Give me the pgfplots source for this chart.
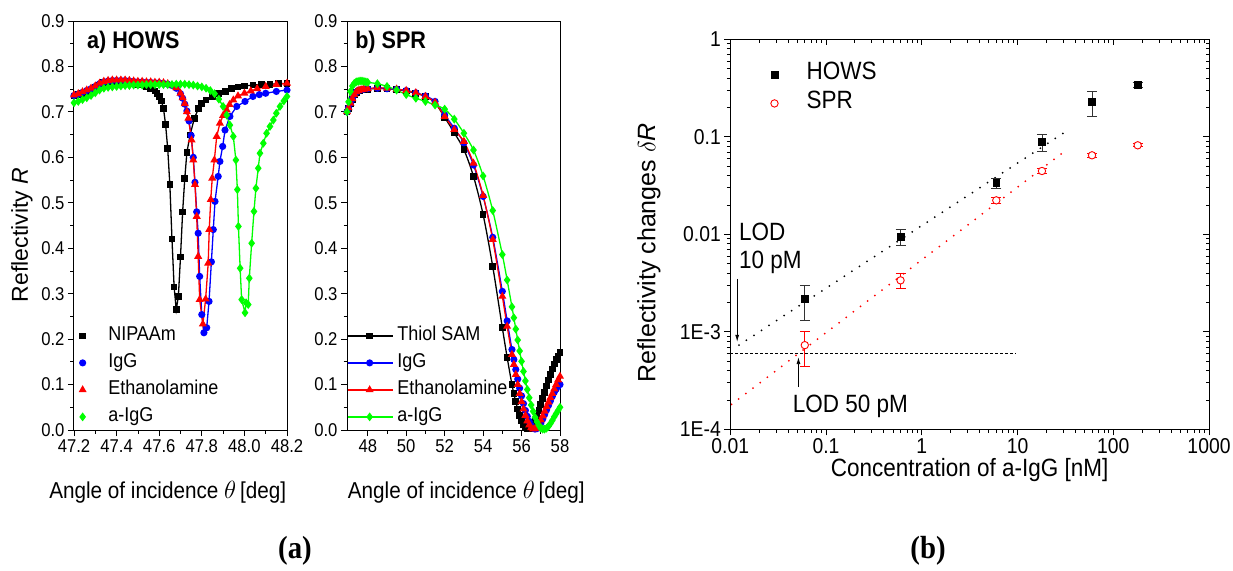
\documentclass[border=0pt]{standalone}
\usepackage{fontspec}
\setmainfont{Liberation Sans}[FakeStretch=0.9]
\newfontfamily\vfont{Liberation Sans}
\newfontfamily\capfont{Liberation Serif}[FakeStretch=0.9]
\usepackage{pgfplots}
\pgfplotsset{compat=1.18}
\usetikzlibrary{arrows.meta}
\definecolor{cgreen}{RGB}{0,255,0}
\definecolor{cblue}{RGB}{0,0,255}
\definecolor{cred}{RGB}{255,0,0}

\pgfplotsset{
  angleplot/.style={
    scale only axis, width=213pt, height=409pt,
    ymin=0, ymax=0.9,
    ytick={0,0.1,0.2,0.3,0.4,0.5,0.6,0.7,0.8,0.9},
    yticklabels={0.0,0.1,0.2,0.3,0.4,0.5,0.6,0.7,0.8,0.9},
    minor x tick num=1, minor y tick num=1,
    tick align=outside, xtick pos=bottom, ytick pos=left,
    major tick length=6pt, minor tick length=3.5pt,
    tick style={black, line width=0.8pt},
    axis line style={line width=1pt},
    tick label style={font=\fontsize{18.5pt}{20pt}\selectfont},
    xlabel={Angle of incidence $\theta$\,[deg]},
    legend cell align=left,
    legend style={draw=none, fill=none, at={(0,0.257)}, anchor=north west,
      inner sep=0pt, outer sep=0pt, row sep=5pt, column sep=0pt,
      font=\fontsize{20pt}{22pt}\selectfont,
      nodes={inner sep=1pt, text height=15pt, text depth=5pt}},
  },
  curve/.style={line width=1.3pt, mark options={solid, fill=#1}, color=#1},
}

\begin{document}
\begin{tikzpicture}
\useasboundingbox (0pt,0pt) rectangle (1233pt,570pt);

% ---------------- (a) HOWS ----------------
\begin{axis}[angleplot,
  at={(74pt,140pt)}, anchor=south west,
  xmin=47.2, xmax=48.2,
  xtick={47.2,47.4,47.6,47.8,48.0,48.2},
  xticklabels={47.2,47.4,47.6,47.8,48.0,48.2},
  ylabel={Reflectivity \textit{R}},
  every axis y label/.style={at={(axis description cs:-0.244,0.477)}, rotate=90, anchor=center,
    font=\vfont\fontsize{23pt}{26pt}\selectfont},
  every axis x label/.style={at={(axis description cs:0.44,-0.152)}, anchor=center,
    font=\fontsize{23pt}{26pt}\selectfont},
  legend image code/.code={\path (0pt,0pt) (32pt,0pt); \draw[#1, only marks] plot coordinates {(8pt,0pt)};},
]
\addplot[curve=black, mark=square*, mark size=2.7pt] coordinates {
(47.20,0.735)(47.22,0.738)(47.24,0.741)(47.26,0.744)(47.28,0.748)(47.30,0.753)(47.32,0.759)
(47.34,0.764)(47.36,0.766)(47.38,0.767)(47.40,0.767)(47.42,0.767)(47.44,0.766)(47.46,0.765)
(47.48,0.763)(47.50,0.761)(47.52,0.759)(47.54,0.756)(47.56,0.752)(47.58,0.746)(47.59,0.741)
(47.60,0.734)(47.61,0.724)(47.62,0.708)(47.63,0.672)(47.64,0.619)(47.65,0.540)(47.66,0.420)
(47.67,0.315)(47.68,0.265)(47.69,0.294)(47.70,0.381)(47.71,0.480)(47.72,0.553)(47.73,0.611)
(47.745,0.649)(47.765,0.686)(47.785,0.708)(47.80,0.718)(47.82,0.726)(47.85,0.734)(47.88,0.740)
(47.91,0.745)(47.94,0.751)(47.97,0.755)(48.00,0.757)(48.04,0.759)(48.08,0.760)(48.12,0.761)
(48.16,0.762)(48.20,0.763)};
\addlegendentry{NIPAAm}
\addplot[curve=cblue, mark=*, mark size=2.9pt] coordinates {
(47.20,0.736)(47.22,0.739)(47.24,0.743)(47.26,0.747)(47.28,0.751)(47.30,0.756)(47.32,0.762)
(47.34,0.766)(47.36,0.768)(47.38,0.769)(47.40,0.769)(47.42,0.769)(47.44,0.769)(47.46,0.768)
(47.48,0.767)(47.50,0.766)(47.52,0.766)(47.54,0.765)(47.56,0.765)(47.58,0.764)(47.60,0.764)
(47.62,0.763)(47.64,0.761)(47.66,0.758)(47.68,0.752)(47.70,0.740)(47.71,0.730)(47.72,0.717)
(47.73,0.702)(47.74,0.680)(47.75,0.648)(47.76,0.600)(47.768,0.545)(47.776,0.480)(47.783,0.433)
(47.79,0.338)(47.80,0.254)(47.81,0.214)(47.823,0.225)(47.834,0.283)(47.845,0.370)(47.854,0.441)
(47.862,0.503)(47.877,0.558)(47.885,0.591)(47.898,0.624)(47.909,0.660)(47.932,0.690)
(47.964,0.712)(48.003,0.723)(48.04,0.734)(48.07,0.738)(48.10,0.741)(48.15,0.745)(48.20,0.748)};
\addlegendentry{IgG}
\addplot[curve=cred, mark=triangle*, mark size=3.4pt] coordinates {
(47.20,0.737)(47.22,0.740)(47.24,0.744)(47.26,0.748)(47.28,0.752)(47.30,0.757)(47.32,0.763)
(47.34,0.767)(47.36,0.769)(47.38,0.770)(47.40,0.770)(47.42,0.770)(47.44,0.770)(47.46,0.769)
(47.48,0.768)(47.50,0.767)(47.52,0.767)(47.54,0.766)(47.56,0.766)(47.58,0.765)(47.60,0.765)
(47.62,0.764)(47.64,0.762)(47.66,0.759)(47.68,0.753)(47.70,0.741)(47.71,0.731)(47.72,0.718)
(47.73,0.700)(47.737,0.686)(47.752,0.638)(47.76,0.594)(47.768,0.540)(47.776,0.470)(47.783,0.382)
(47.79,0.287)(47.805,0.233)(47.818,0.288)(47.83,0.367)(47.835,0.441)(47.842,0.507)(47.849,0.554)
(47.859,0.594)(47.87,0.646)(47.885,0.675)(47.90,0.692)(47.917,0.704)(47.93,0.716)(47.948,0.726)
(47.97,0.735)(48.00,0.741)(48.03,0.746)(48.06,0.751)(48.10,0.756)(48.15,0.760)(48.20,0.763)};
\addlegendentry{Ethanolamine}
\addplot[curve=cgreen, mark=diamond*, mark size=3.4pt] coordinates {
(47.20,0.720)(47.22,0.723)(47.24,0.727)(47.26,0.731)(47.28,0.736)(47.30,0.742)(47.32,0.748)
(47.34,0.752)(47.36,0.754)(47.38,0.755)(47.40,0.756)(47.42,0.757)(47.44,0.758)(47.46,0.758)
(47.48,0.759)(47.50,0.759)(47.52,0.759)(47.54,0.760)(47.56,0.760)(47.58,0.760)(47.60,0.760)
(47.62,0.760)(47.64,0.760)(47.66,0.760)(47.68,0.761)(47.70,0.761)(47.72,0.761)(47.74,0.760)
(47.76,0.759)(47.78,0.757)(47.80,0.755)(47.82,0.752)(47.84,0.747)(47.86,0.740)(47.88,0.728)
(47.90,0.712)(47.917,0.693)(47.932,0.671)(47.948,0.646)(47.96,0.594)(47.967,0.529)(47.972,0.448)
(47.98,0.356)(47.987,0.287)(48.003,0.258)(48.008,0.280)(48.018,0.276)(48.023,0.334)(48.034,0.411)
(48.045,0.481)(48.054,0.532)(48.065,0.576)(48.073,0.609)(48.089,0.631)(48.104,0.653)(48.12,0.668)
(48.136,0.682)(48.15,0.697)(48.167,0.712)(48.185,0.724)(48.20,0.734)};
\addlegendentry{a-IgG}
\node[anchor=west, inner sep=0pt, font=\bfseries\fontsize{24pt}{26pt}\selectfont]
  at (rel axis cs:0.061,0.947) {a) HOWS};
\end{axis}

% ---------------- (b) SPR ----------------
\begin{axis}[angleplot,
  at={(347pt,140pt)}, anchor=south west,
  xmin=46.92, xmax=58,
  xtick={48,50,52,54,56,58},
  xticklabels={48,50,52,54,56,58},
  every axis x label/.style={at={(axis description cs:0.56,-0.152)}, anchor=center,
    font=\fontsize{23pt}{26pt}\selectfont},
  legend image code/.code={\draw[#1, mark repeat=2, mark phase=2] plot coordinates {(0pt,0pt) (22pt,0pt) (45pt,0pt)};},
  legend style={column sep=3pt},
]
\addplot[curve=black, smooth, mark=square*, mark size=2.7pt] coordinates {
(46.92,0.700)(47.0,0.708)(47.1,0.718)(47.2,0.728)(47.3,0.737)(47.4,0.743)(47.5,0.746)(47.6,0.747)
(47.7,0.748)(47.8,0.749)(48.0,0.750)(48.5,0.752)(49.0,0.751)(49.5,0.749)(50.0,0.746)(50.5,0.741)
(51.0,0.734)(51.5,0.720)(52.0,0.688)(52.5,0.654)(53.0,0.617)(53.5,0.558)(54.0,0.474)(54.5,0.360)
(55.0,0.225)(55.25,0.160)(55.5,0.100)(55.6,0.080)(55.7,0.062)(55.8,0.046)(55.9,0.032)(56.0,0.020)
(56.1,0.011)(56.2,0.005)(56.3,0.002)(56.4,0.002)(56.5,0.005)(56.6,0.011)(56.7,0.020)(56.8,0.031)
(56.9,0.043)(57.0,0.056)(57.1,0.069)(57.2,0.083)(57.3,0.097)(57.4,0.110)(57.5,0.122)(57.6,0.134)
(57.7,0.145)(57.8,0.155)(57.9,0.163)(58.0,0.170)};
\addlegendentry{Thiol SAM}
\addplot[curve=cblue, smooth, mark=*, mark size=2.9pt] coordinates {
(46.92,0.700)(47.0,0.709)(47.1,0.719)(47.2,0.729)(47.3,0.738)(47.4,0.744)(47.5,0.747)(47.6,0.748)
(47.7,0.749)(47.8,0.750)(48.0,0.751)(48.5,0.752)(49.0,0.751)(49.5,0.750)(50.0,0.747)(50.5,0.742)
(51.0,0.735)(51.5,0.723)(52.0,0.693)(52.5,0.664)(53.0,0.632)(53.5,0.583)(54.0,0.514)(54.5,0.424)
(55.0,0.305)(55.25,0.240)(55.5,0.177)(55.6,0.155)(55.7,0.133)(55.8,0.112)(55.9,0.092)(56.0,0.075)
(56.1,0.058)(56.2,0.043)(56.3,0.030)(56.4,0.019)(56.5,0.010)(56.6,0.004)(56.7,0.002)(56.8,0.003)
(56.9,0.008)(57.0,0.015)(57.1,0.024)(57.2,0.034)(57.3,0.044)(57.4,0.054)(57.5,0.064)(57.6,0.074)
(57.7,0.083)(57.8,0.090)(57.9,0.096)(58.0,0.100)};
\addlegendentry{IgG}
\addplot[curve=cred, smooth, mark=triangle*, mark size=3.4pt] coordinates {
(46.92,0.700)(47.0,0.709)(47.1,0.719)(47.2,0.729)(47.3,0.738)(47.4,0.744)(47.5,0.747)(47.6,0.748)
(47.7,0.749)(47.8,0.750)(48.0,0.751)(48.5,0.753)(49.0,0.752)(49.5,0.750)(50.0,0.747)(50.5,0.742)
(51.0,0.734)(51.5,0.721)(52.0,0.690)(52.5,0.661)(53.0,0.635)(53.5,0.587)(54.0,0.516)(54.5,0.419)
(55.0,0.294)(55.25,0.228)(55.5,0.166)(55.6,0.144)(55.7,0.122)(55.8,0.100)(55.9,0.080)(56.0,0.062)
(56.1,0.046)(56.2,0.032)(56.3,0.020)(56.4,0.011)(56.5,0.005)(56.6,0.002)(56.7,0.003)(56.8,0.007)
(56.9,0.014)(57.0,0.022)(57.1,0.031)(57.2,0.041)(57.3,0.051)(57.4,0.061)(57.5,0.071)(57.6,0.080)
(57.7,0.090)(57.8,0.100)(57.9,0.110)(58.0,0.118)};
\addlegendentry{Ethanolamine}
\addplot[curve=cgreen, smooth, mark=diamond*, mark size=3.4pt] coordinates {
(46.92,0.700)(47.0,0.722)(47.1,0.745)(47.2,0.757)(47.3,0.763)(47.4,0.766)(47.5,0.767)(47.6,0.768)
(47.7,0.768)(47.8,0.767)(47.9,0.766)(48.0,0.765)(48.5,0.762)(49.0,0.756)(49.5,0.748)(50.0,0.738)
(50.5,0.730)(51.0,0.723)(51.5,0.715)(52.0,0.706)(52.5,0.684)(53.0,0.653)(53.5,0.616)(54.0,0.559)
(54.5,0.483)(55.0,0.386)(55.25,0.330)(55.5,0.271)(55.6,0.247)(55.7,0.222)(55.8,0.198)(55.9,0.174)
(56.0,0.151)(56.1,0.129)(56.2,0.108)(56.3,0.089)(56.4,0.071)(56.5,0.055)(56.6,0.041)(56.7,0.028)
(56.8,0.018)(56.9,0.010)(57.0,0.004)(57.1,0.002)(57.2,0.002)(57.3,0.004)(57.4,0.008)(57.5,0.014)
(57.6,0.021)(57.7,0.029)(57.8,0.036)(57.9,0.043)(58.0,0.050)};
\addlegendentry{a-IgG}
\node[anchor=west, inner sep=0pt, font=\bfseries\fontsize{24pt}{26pt}\selectfont]
  at (rel axis cs:0.038,0.947) {b) SPR};
\end{axis}

% ---------------- (b) dose response ----------------
\begin{axis}[
  at={(730.3pt,140.7pt)}, anchor=south west,
  scale only axis, width=478.7pt, height=390pt,
  xmode=log, ymode=log,
  xmin=0.01, xmax=1000, ymin=1e-4, ymax=1,
  xtick={0.01,0.1,1,10,100,1000}, xticklabels={0.01,0.1,1,10,100,1000},
  ytick={1e-4,1e-3,0.01,0.1,1}, yticklabels={1E-4,1E-3,0.01,0.1,1},
  minor xtick={0.02,0.03,0.04,0.05,0.06,0.07,0.08,0.09,0.2,0.3,0.4,0.5,0.6,0.7,0.8,0.9,
    2,3,4,5,6,7,8,9,20,30,40,50,60,70,80,90,200,300,400,500,600,700,800,900},
  minor ytick={2e-4,3e-4,4e-4,5e-4,6e-4,7e-4,8e-4,9e-4,2e-3,3e-3,4e-3,5e-3,6e-3,7e-3,8e-3,9e-3,
    0.02,0.03,0.04,0.05,0.06,0.07,0.08,0.09,0.2,0.3,0.4,0.5,0.6,0.7,0.8,0.9},
  tick align=outside, xtick pos=bottom, ytick pos=left,
  major tick length=6pt, minor tick length=3.5pt,
  tick style={black, line width=0.8pt},
  axis line style={line width=1pt},
  tick label style={font=\fontsize{21.5pt}{23pt}\selectfont},
  xlabel={Concentration of a-IgG [nM]},
  ylabel={Reflectivity changes $\delta$\textit{R}},
  every axis y label/.style={at={(axis description cs:-0.17,0.453)}, rotate=90, anchor=center,
    font=\vfont\fontsize{25pt}{28pt}\selectfont},
  every axis x label/.style={at={(axis description cs:0.5,-0.105)}, anchor=center,
    font=\fontsize{25pt}{28pt}\selectfont},
  legend cell align=left,
  legend style={draw=none, fill=none, at={(0.071,0.942)}, anchor=north west,
    inner sep=0pt, outer sep=0pt, row sep=4pt, column sep=0pt,
    font=\fontsize{25pt}{28pt}\selectfont,
    nodes={inner sep=1pt, text height=17pt, text depth=6pt}},
  legend image code/.code={\path (0pt,0pt) (41pt,0pt); \draw[#1, only marks] plot coordinates {(10pt,0pt)};},
]
\addplot[black, dash pattern=on 3pt off 2pt, line width=0.8pt, forget plot]
  coordinates {(0.01,6e-4) (9.5,6e-4)};
\addplot[black, line width=2pt, line cap=round, dash pattern=on 0pt off 9pt, forget plot]
  coordinates {(0.0123,7.3e-4) (31.4,0.112)};
\addplot[cred, line width=2pt, line cap=round, dash pattern=on 0pt off 9pt, forget plot]
  coordinates {(0.0103,1.8e-4) (31.4,0.0715)};
\addplot[black, only marks, mark=square*, mark size=3.4pt,
  error bars/.cd, y dir=both, y explicit,
  error bar style={line width=0.9pt, black!80},
  error mark options={rotate=90, mark size=5pt, line width=0.9pt, black!80}]
  coordinates {
  (0.06,2.2e-3) += (0,0.8e-3) -= (0,0.89e-3)
  (0.6,9.5e-3) += (0,1.7e-3) -= (0,1.9e-3)
  (6,0.0336) += (0,0.0037) -= (0,0.0042)
  (18,0.0885) += (0,0.0165) -= (0,0.0175)
  (60,0.227) += (0,0.068) -= (0,0.065)
  (180,0.343) += (0,0.02) -= (0,0.02)};
\addlegendentry{HOWS}
\addplot[cred, only marks, mark=*, mark size=3.7pt, mark options={fill=white, line width=0.9pt},
  error bars/.cd, y dir=both, y explicit,
  error bar style={line width=0.9pt, cred},
  error mark options={rotate=90, mark size=5pt, line width=0.9pt, cred}]
  coordinates {
  (0.06,7.3e-4) += (0,2.9e-4) -= (0,2.9e-4)
  (0.6,3.37e-3) += (0,0.58e-3) -= (0,0.6e-3)
  (6,0.0223) += (0,0.0015) -= (0,0.0015)
  (18,0.0446) += (0,0.003) -= (0,0.003)
  (60,0.0646) += (0,0.003) -= (0,0.003)
  (180,0.0818) += (0,0.003) -= (0,0.003)};
\addlegendentry{SPR}
\draw[-{Latex[length=7pt,width=4pt]}, line width=0.8pt] (axis cs:0.0118,3.5e-3) -- (axis cs:0.0118,7.9e-4);
\draw[-{Latex[length=7pt,width=4pt]}, line width=0.8pt] (axis cs:0.0515,2.7e-4) -- (axis cs:0.0515,5.5e-4);
\node[anchor=west, align=left, inner sep=0pt, font=\fontsize{25pt}{28pt}\selectfont]
  at (axis cs:0.0123,7.2e-3) {LOD\\10 pM};
\node[anchor=west, inner sep=0pt, font=\fontsize{25pt}{28pt}\selectfont]
  at (axis cs:0.0448,1.73e-4) {LOD 50 pM};
\end{axis}
% inward ticks on top and right
\begin{axis}[
  at={(730.3pt,140.7pt)}, anchor=south west,
  scale only axis, width=478.7pt, height=390pt,
  xmode=log, ymode=log,
  xmin=0.01, xmax=1000, ymin=1e-4, ymax=1,
  xtick={0.01,0.1,1,10,100,1000}, ytick={1e-4,1e-3,0.01,0.1,1},
  minor xtick={0.02,0.03,0.04,0.05,0.06,0.07,0.08,0.09,0.2,0.3,0.4,0.5,0.6,0.7,0.8,0.9,
    2,3,4,5,6,7,8,9,20,30,40,50,60,70,80,90,200,300,400,500,600,700,800,900},
  minor ytick={2e-4,3e-4,4e-4,5e-4,6e-4,7e-4,8e-4,9e-4,2e-3,3e-3,4e-3,5e-3,6e-3,7e-3,8e-3,9e-3,
    0.02,0.03,0.04,0.05,0.06,0.07,0.08,0.09,0.2,0.3,0.4,0.5,0.6,0.7,0.8,0.9},
  xticklabels={}, yticklabels={},
  tick align=inside, xtick pos=top, ytick pos=right,
  major tick length=6pt, minor tick length=3.5pt,
  tick style={black, line width=0.8pt},
  axis line style={line width=1pt},
]
\end{axis}

\node[font=\capfont\bfseries\fontsize{32pt}{34pt}\selectfont] at (295pt,19pt) {(a)};
\node[font=\capfont\bfseries\fontsize{32pt}{34pt}\selectfont] at (928pt,19pt) {(b)};
\end{tikzpicture}
\end{document}
